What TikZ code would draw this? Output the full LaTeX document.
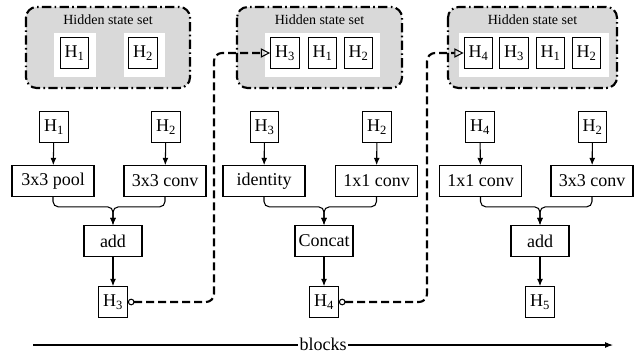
\documentclass[tikz,border=0pt]{standalone}
\usepackage{fontspec}
\setmainfont{Liberation Serif}
\usetikzlibrary{arrows.meta, positioning, calc}

\begin{document}
\begin{tikzpicture}[x=0.75pt, y=-0.75pt,
    every node/.style={font=\fontsize{13.5}{15}\selectfont},
    hbox/.style={draw, line width=0.8pt, minimum width=21.5pt, minimum height=23pt, inner sep=0pt, fill=white},
    opbox/.style={draw, line width=0.8pt, minimum width=61.5pt, minimum height=23pt, inner sep=0pt, fill=white},
    sumbox/.style={opbox, minimum width=43.5pt},
    settitle/.style={font=\fontsize{10.5}{12}\selectfont},
    hset/.style={draw, line width=1.6pt, dash pattern=on 7pt off 2.5pt on 1.2pt off 2.5pt, rounded corners=8pt, fill=black!15},
    flow/.style={line width=0.8pt, rounded corners=4pt, -{Latex[length=5.5pt, width=4.5pt]}},
    jump/.style={line width=1.6pt, dash pattern=on 6pt off 3pt, rounded corners=6pt,
        {Circle[open, line width=0.8pt, length=5pt, width=5pt]}-{Triangle[open, line width=0.8pt, length=7pt, width=7pt]}}]
    \useasboundingbox (0,0) rectangle (642,354);

    % hidden state sets
    \draw[hset] (26,7) rectangle (190,88);
    \draw[hset] (237,7) rectangle (402,88);
    \draw[hset] (448,7) rectangle (617,88);
    \node[settitle] (t1) at (108,20) {Hidden state set};
    \node[settitle] (t2) at (319.5,20) {Hidden state set};
    \node[settitle] (t3) at (532.5,20) {Hidden state set};
    \fill[white] (54,33) rectangle (96,77);
    \fill[white] (124,33) rectangle (165,77);
    \fill[white] (265,33) rectangle (380,77);
    \fill[white] (459,33) rectangle (609,77);

    \node[hbox] (s1a) at (74.5,53) {H\textsubscript{1}};
    \node[hbox] (s1b) at (143,53) {H\textsubscript{2}};
    \node[hbox] (s2a) at (285,53) {H\textsubscript{3}};
    \node[hbox] (s2b) at (322.5,53) {H\textsubscript{1}};
    \node[hbox] (s2c) at (358.5,53) {H\textsubscript{2}};
    \node[hbox] (s3a) at (478.5,53) {H\textsubscript{4}};
    \node[hbox] (s3b) at (514,53) {H\textsubscript{3}};
    \node[hbox] (s3c) at (550.5,53) {H\textsubscript{1}};
    \node[hbox] (s3d) at (586.5,53) {H\textsubscript{2}};

    % block 1
    \node[hbox] (a1) at (54,127) {H\textsubscript{1}};
    \node[hbox] (a2) at (166,127) {H\textsubscript{2}};
    \node[opbox] (pool) at (53,181) {3x3 pool};
    \node[opbox] (conva) at (165,181) {3x3 conv};
    \node[sumbox] (adda) at (113,241) {add};
    \node[hbox] (o3) at (113,302) {H\textsubscript{3}};

    % block 2
    \node[hbox] (b1) at (264.5,127) {H\textsubscript{3}};
    \node[hbox] (b2) at (377,127) {H\textsubscript{2}};
    \node[opbox] (ident) at (264,181) {identity};
    \node[opbox] (convb) at (376.5,181) {1x1 conv};
    \node[sumbox] (cat) at (324,241) {Concat};
    \node[hbox] (o4) at (324,302) {H\textsubscript{4}};

    % block 3
    \node[hbox] (c1) at (480,127) {H\textsubscript{4}};
    \node[hbox] (c2) at (592.5,127) {H\textsubscript{2}};
    \node[opbox] (convc) at (480.5,181) {1x1 conv};
    \node[opbox] (convd) at (592,181) {3x3 conv};
    \node[sumbox] (addc) at (540,241) {add};
    \node[hbox] (o5) at (540,302) {H\textsubscript{5}};

    \foreach \i/\j in {a1/pool, a2/conva, b1/ident, b2/convb, c1/convc, c2/convd}
        \draw[flow] (\i) -- (\j);
    \foreach \i/\j in {pool/adda, conva/adda, ident/cat, convb/cat, convc/addc, convd/addc}
        \draw[flow] (\i.south) -- ++(0,10) -| (\j.north);
    \draw[flow] (adda) -- (o3);
    \draw[flow] (cat) -- (o4);
    \draw[flow] (addc) -- (o5);

    % new states go into the next set
    \draw[jump] (o3.east) -| (214,53) -- (s2a.west);
    \draw[jump] (o4.east) -| (427,53) -- (s3a.west);

    % axis
    \node[inner sep=1pt] (blk) at (323,344) {blocks};
    \coordinate (bl0) at (33,345);
    \coordinate (bl1) at (613,345);
    \draw[line width=0.8pt] (bl0) -- (blk.west |- bl0);
    \draw[line width=0.8pt, -{Latex[length=6pt, width=4.5pt]}] (blk.east |- bl1) -- (bl1);
\end{tikzpicture}
\end{document}
